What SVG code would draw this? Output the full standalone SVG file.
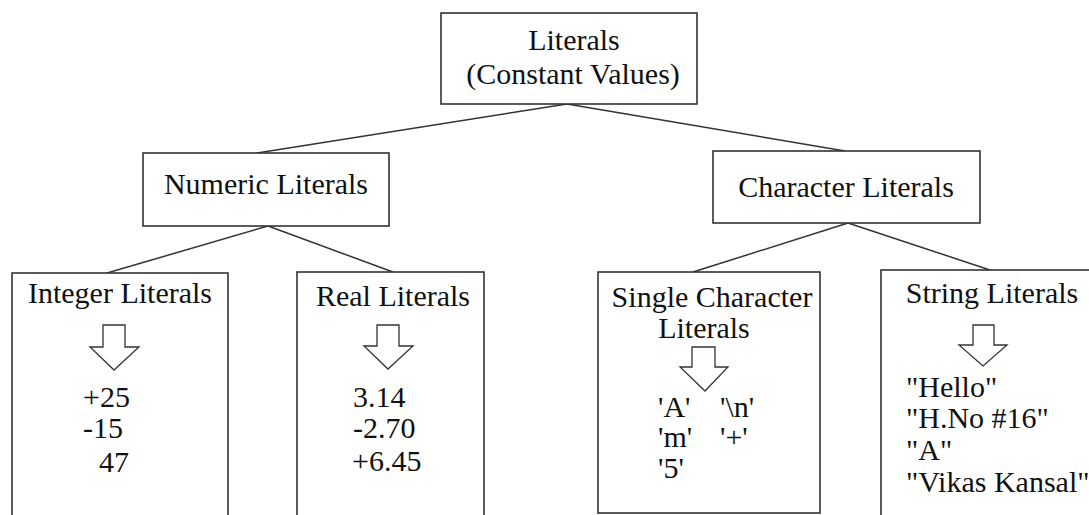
<svg xmlns="http://www.w3.org/2000/svg" width="1089" height="515" viewBox="0 0 1089 515">
<style>
.box{fill:#fff;stroke:#333;stroke-width:1.6}
.conn line{stroke:#333;stroke-width:1.5}
.arr{fill:#fff;stroke:#333;stroke-width:1.3;stroke-linejoin:miter}
text{font-family:"Liberation Serif","Times New Roman",serif;font-size:30px;fill:#111}
.c{text-anchor:middle}
</style>
<rect width="1089" height="515" fill="#fff"/>
<g id="connectors" class="conn">
<line x1="567" y1="104" x2="257" y2="153"/>
<line x1="567" y1="104" x2="845" y2="151"/>
<line x1="268" y1="226" x2="107" y2="273"/>
<line x1="268" y1="226" x2="393" y2="272"/>
<line x1="848" y1="223" x2="693" y2="272"/>
<line x1="848" y1="223" x2="990" y2="270"/>
</g>
<g id="root">
<rect class="box" x="441" y="13" width="256" height="91"/>
<text class="c" x="574" y="50">Literals</text>
<text class="c" x="573" y="84">(Constant Values)</text>
</g>
<g id="numeric">
<rect class="box" x="143" y="153" width="246" height="73"/>
<text class="c" x="266" y="194">Numeric Literals</text>
</g>
<g id="character">
<rect class="box" x="713" y="151" width="267" height="72"/>
<text class="c" x="846" y="197">Character Literals</text>
</g>
<g id="integer">
<rect class="box" x="12" y="273" width="216" height="250"/>
<text class="c" x="120" y="303">Integer Literals</text>
<path class="arr" d="M103,325 H125 V347 H139 L114,370 L90,347 H103 Z"/>
<text x="83" y="407">+25</text>
<text x="83" y="438">-15</text>
<text x="99" y="472">47</text>
</g>
<g id="real">
<rect class="box" x="297" y="272" width="187" height="250"/>
<text class="c" x="393" y="306">Real Literals</text>
<path class="arr" d="M377,325 H399 V346 H413 L388,369 L364,346 H377 Z"/>
<text x="353" y="407">3.14</text>
<text x="353" y="438">-2.70</text>
<text x="352" y="471">+6.45</text>
</g>
<g id="single">
<rect class="box" x="598" y="272" width="222" height="241"/>
<text class="c" x="712" y="307">Single Character</text>
<text class="c" x="704" y="338">Literals</text>
<path class="arr" d="M692,347 H715 V367 H728 L705,391 L680,367 H692 Z"/>
<text x="658" y="417">'A'</text>
<text x="720" y="417">'\n'</text>
<text x="658" y="447">'m'</text>
<text x="720" y="447">'+'</text>
<text x="658" y="478">'5'</text>
</g>
<g id="string">
<rect class="box" x="881" y="270" width="220" height="260"/>
<text class="c" x="992" y="303">String Literals</text>
<path class="arr" d="M973,325 H994 V345 H1007 L983,366 L959,345 H973 Z"/>
<text x="906" y="397">"Hello"</text>
<text x="906" y="428">"H.No #16"</text>
<text x="906" y="460">"A"</text>
<text x="906" y="492">"Vikas Kansal"</text>
</g>
</svg>
